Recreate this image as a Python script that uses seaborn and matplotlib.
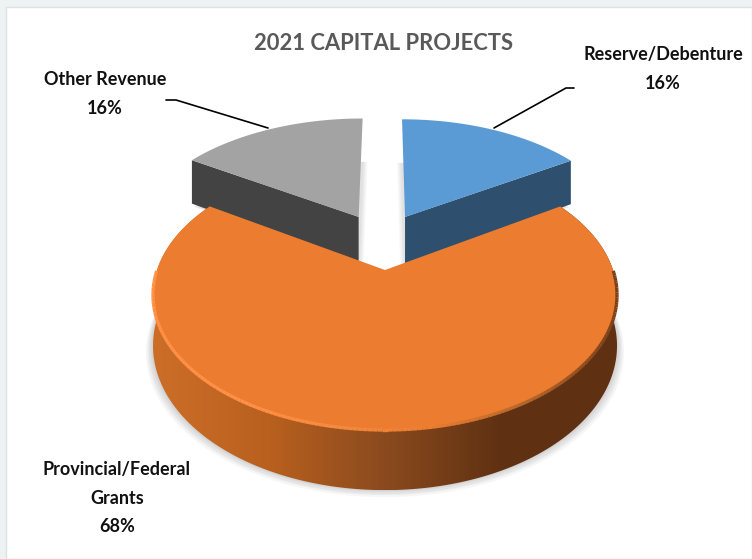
import numpy as np
import matplotlib
matplotlib.use("Agg")
import matplotlib.pyplot as plt
import seaborn as sns
from matplotlib.collections import LineCollection
from matplotlib.colors import LinearSegmentedColormap

# chart values
categories = ["Other Revenue", "Provincial/Federal\nGrants", "Reserve/Debenture"]
shares = [16, 68, 16]
title = "2021 CAPITAL PROJECTS"

top_colors = ["#A3A3A3", "#EC7C30", "#5B9BD5"]
cut_colors = ["#434343", "#5F3112", "#2F4F6E"]
side_stops = ["#CC6E28", "#B9601F", "#8A4A1E", "#5F3112", "#5F3112"]

# perspective of the pie, fitted to the reference
CX, CY = 385, 270
A, B, K = 228, 130.4, 0.185
DEPTH = 49
shifts = [(-0.125, 0.44), (0, 0), (0.095, 0.44)]
radii = [1.04, 1.0, 1.03]

sns.set_theme(style="white")
plt.rcParams["font.family"] = ["Lato", "DejaVu Sans"]

fig = plt.figure(figsize=(7.52, 5.59), dpi=100, facecolor="#EDF2F2")
ax = fig.add_axes([0, 0, 1, 1])
wedges, _ = ax.pie(shares, startangle=90, counterclock=True)
angles = [(w.theta1, w.theta2) for w in wedges]
for w in wedges:
    w.remove()

ax.set_xlim(0, 752)
ax.set_ylim(559, 0)
ax.set_aspect("auto")
ax.axis("off")
ax.add_patch(plt.Rectangle((6, 7), 746, 552, fc="white", ec="#DDE3E3", lw=1, zorder=0))


def project(x, y, z=0.0):
    w = 1 + K * y
    return CX + A * x / w, CY - B * y / w + z * DEPTH / w


def rim(th1, th2, shift, r=1.0, n=240):
    t = np.radians(np.linspace(th1, th2, n))
    return r * np.cos(t) + shift[0], r * np.sin(t) + shift[1]


# side slices
for i in [0, 2]:
    th1, th2 = angles[i]
    sx, sy = shifts[i]
    rx, ry = rim(th1, th2, shifts[i], radii[i])
    px, py = project(np.r_[sx, rx], np.r_[sy, ry])
    bx, by = project(np.r_[sx, rx], np.r_[sy, ry], 1.05)
    # soft shadow towards the gap
    sign = 1 if i == 0 else -1
    for d in [1, 2, 3, 4, 5]:
        ax.fill(bx + sign * d, by + 3, color="black", alpha=0.022, lw=0, zorder=1)
    # cut face that looks to the viewer
    end = th2 if i == 0 else th1
    ex, ey = rim(end, end, shifts[i], radii[i], 1)
    ax0, ay0 = project(sx, sy)
    ax1, ay1 = project(sx, sy, 1.05)
    cx0, cy0 = project(ex[0], ey[0])
    cx1, cy1 = project(ex[0], ey[0], 1.05)
    ax.fill([ax0, cx0, cx1, ax1], [ay0, cy0, cy1, ay1], color=cut_colors[i], lw=0, zorder=2)
    ax.fill(px, py, color=top_colors[i], lw=0, zorder=3)

# big slice: side wall with a horizontal gradient, then the top face
th1, th2 = angles[1]
rx, ry = rim(th1, th2, shifts[1])
top_x, top_y = project(np.r_[0, rx], np.r_[0, ry])
arc_x, arc_y = project(rx, ry)
low_x, low_y = project(rx, ry, 1)
wall_x = np.r_[arc_x, low_x[::-1]]
wall_y = np.r_[arc_y, low_y[::-1]]

# ground shadow, only around the front of the wall
sh_a, sh_b = rim(172, 368, (0, 0))
sh_x, sh_y = project(sh_a, sh_b, 1)
for s, dy in [(1.006, 1), (1.012, 2), (1.018, 4), (1.024, 5), (1.03, 7)]:
    ax.fill(CX + (sh_x - CX) * s, sh_y + dy, color="black", alpha=0.035, lw=0, zorder=1)

cmap = LinearSegmentedColormap.from_list("wall", side_stops)
grad = np.linspace(0, 1, 256).reshape(1, -1)
img = ax.imshow(grad, extent=(wall_x.min(), wall_x.max(), wall_y.max(), wall_y.min()),
                cmap=cmap, aspect="auto", zorder=4)
ax.set_xlim(0, 752)
ax.set_ylim(559, 0)
clip = ax.fill(wall_x, wall_y, color="none", lw=0, zorder=4)[0]
img.set_clip_path(clip)

ax.fill(top_x, top_y, color=top_colors[1], lw=0, zorder=5)

# lit bevel along the front edge, fading out to the right
ang = np.linspace(th1, th2, len(arc_x))
front = (ang > 180) & (ang < 360)
pts = np.column_stack([arc_x[front], arc_y[front]]).reshape(-1, 1, 2)
segs = np.concatenate([pts[:-1], pts[1:]], axis=1)
bevel = LinearSegmentedColormap.from_list("bevel", ["#FF9045", "#FF9045", "#F58A3E", "#EC7C30", "#B5662A", "#7A4018"])
lc = LineCollection(segs, cmap=bevel, linewidths=2.4, zorder=6)
lc.set_array((arc_x[front][:-1] - arc_x.min()) / (arc_x.max() - arc_x.min()))
ax.add_collection(lc)

# labels and leader lines
ax.text(384, 43, title, ha="center", va="center", fontsize=15.8, fontweight="bold", color="#595959", zorder=7)
label_font = dict(ha="center", va="center", fontsize=13, fontweight="bold", color="#111111",
                  linespacing=1.8, zorder=7)
ax.text(105, 94, categories[0] + "\n16%", **label_font)
ax.text(117, 498, categories[1] + "\n68%", **label_font)
ax.text(663, 69, categories[2] + "\n16%", **label_font)
ax.plot([268, 176, 166], [128, 100, 100], color="black", lw=1.2, zorder=7)
ax.plot([494, 566, 574], [128, 88, 88], color="black", lw=1.2, zorder=7)

fig.savefig("out.png", dpi=100, facecolor=fig.get_facecolor())
